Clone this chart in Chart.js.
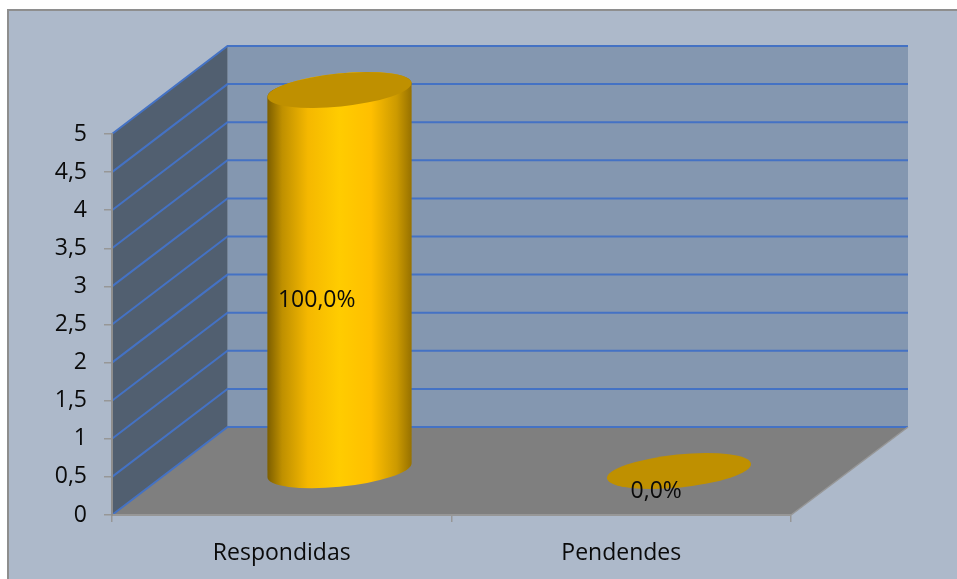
<!DOCTYPE html>
<html>
<head>
<meta charset="utf-8">
<script src="https://cdn.jsdelivr.net/npm/chart.js@4"></script>
<style>
  html, body { margin: 0; padding: 0; background: #fff; }
  #box { width: 957px; height: 579px; }
</style>
</head>
<body>
<div id="box"><canvas id="answersChart"></canvas></div>
<script>
const categories = ['Respondidas', 'Pendendes'];
const answers = [5, 0];
const percentLabels = ['100,0%', '0,0%'];
const yMax = 5;
const yStep = 0.5;

// depth of the fake 3d box
const depthX = 115.5;
const depthY = -88;
const barWidth = 143;
// cylinder cap
const capA = 72.4;
const capB = 16.5;
const capRot = -5.8 * Math.PI / 180;
const capTan = Math.atan(-(capB / capA) * Math.tan(capRot));

const fontName = '"Open Sans", sans-serif';
const fontSize = 23;

function barGradient(ctx, x) {
  var g = ctx.createLinearGradient(x - barWidth / 2, 0, x + barWidth / 2, 0);
  g.addColorStop(0, '#7F6000');
  g.addColorStop(0.1, '#BF9000');
  g.addColorStop(0.28, '#F5B800');
  g.addColorStop(0.5, '#FFCC00');
  g.addColorStop(0.72, '#FFBF00');
  g.addColorStop(0.9, '#CC9A00');
  g.addColorStop(1, '#997300');
  return g;
}

function cylinderPath(ctx, bar) {
  ctx.ellipse(bar.x, bar.y, capA, capB, capRot, capTan + Math.PI, capTan + Math.PI * 2);
  ctx.ellipse(bar.x, bar.base, capA, capB, capRot, capTan, capTan + Math.PI);
  ctx.closePath();
}

const box3d = {
  id: 'box3d',
  beforeDraw(chart) {
    var ctx = chart.ctx, a = chart.chartArea, y = chart.scales.y;
    ctx.save();
    // frame
    ctx.fillStyle = '#ADB9CA';
    ctx.fillRect(7, 9, chart.width - 7, chart.height - 9);
    ctx.strokeStyle = '#8E8E8E';
    ctx.lineWidth = 2;
    ctx.beginPath();
    ctx.moveTo(8, chart.height);
    ctx.lineTo(8, 10);
    ctx.lineTo(chart.width, 10);
    ctx.stroke();

    var bx = a.left + depthX, tx = a.right + depthX + 1.5;
    // back wall
    ctx.fillStyle = '#8497B0';
    ctx.fillRect(bx, a.top + depthY, tx - bx, a.bottom - a.top);
    // left wall
    ctx.fillStyle = '#515F70';
    ctx.beginPath();
    ctx.moveTo(a.left, a.top);
    ctx.lineTo(bx, a.top + depthY);
    ctx.lineTo(bx, a.bottom + depthY);
    ctx.lineTo(a.left, a.bottom);
    ctx.closePath();
    ctx.fill();
    // floor
    ctx.fillStyle = '#7F7F7F';
    ctx.beginPath();
    ctx.moveTo(a.left, a.bottom);
    ctx.lineTo(bx, a.bottom + depthY);
    ctx.lineTo(tx, a.bottom + depthY);
    ctx.lineTo(a.right, a.bottom);
    ctx.closePath();
    ctx.fill();
    // grid lines on both walls
    ctx.strokeStyle = '#4472C4';
    ctx.lineWidth = 2;
    y.ticks.forEach(function (t) {
      var py = y.getPixelForValue(t.value);
      ctx.beginPath();
      ctx.moveTo(a.left, py);
      ctx.lineTo(bx, py + depthY);
      ctx.lineTo(tx, py + depthY);
      ctx.stroke();
    });
    // right edge of the floor
    ctx.strokeStyle = '#979797';
    ctx.lineWidth = 1.5;
    ctx.beginPath();
    ctx.moveTo(a.right, a.bottom);
    ctx.lineTo(tx, a.bottom + depthY);
    ctx.stroke();
    ctx.restore();
  },
  beforeDatasetsDraw(chart) {
    var ctx = chart.ctx;
    var bars = chart.getDatasetMeta(0).data;
    // round body of every bar that has height
    bars.forEach(function (bar) {
      if (bar.base - bar.y < 1) return;
      ctx.save();
      ctx.translate(depthX / 2, depthY / 2);
      ctx.fillStyle = barGradient(ctx, bar.x);
      ctx.beginPath();
      cylinderPath(ctx, bar);
      ctx.fill();
      ctx.restore();
    });
    // the rectangles themselves get clipped to the cylinder outline
    ctx.save();
    ctx.translate(depthX / 2, depthY / 2);
    ctx.beginPath();
    bars.forEach(function (bar) {
      cylinderPath(ctx, bar);
    });
    ctx.clip();
  },
  afterDatasetsDraw(chart) {
    var ctx = chart.ctx;
    ctx.restore();
    var bars = chart.getDatasetMeta(0).data;
    bars.forEach(function (bar) {
      ctx.save();
      ctx.translate(depthX / 2, depthY / 2);
      ctx.fillStyle = '#BF9000';
      ctx.beginPath();
      ctx.ellipse(bar.x, bar.y, capA, capB, capRot, 0, Math.PI * 2);
      ctx.fill();
      ctx.restore();
    });
    // data labels
    ctx.save();
    ctx.fillStyle = '#0A0A0A';
    ctx.font = fontSize + 'px ' + fontName;
    ctx.textAlign = 'center';
    ctx.textBaseline = 'middle';
    bars.forEach(function (bar, i) {
      ctx.fillText(percentLabels[i], bar.x + 35, (bar.y + bar.base) / 2 - 23.5);
    });
    ctx.restore();
  }
};

document.addEventListener('DOMContentLoaded', function () {
  var ctx = document.getElementById('answersChart').getContext('2d');
  new Chart(ctx, {
    type: 'bar',
    data: {
      labels: categories,
      datasets: [{
        data: answers,
        barThickness: barWidth,
        borderWidth: 0,
        backgroundColor: function (c) {
          var xs = c.chart.scales.x;
          if (!xs || c.dataIndex === undefined) return '#FFCC00';
          var px = xs.getPixelForValue(c.dataIndex);
          if (!isFinite(px)) return '#FFCC00';
          return barGradient(c.chart.ctx, px);
        }
      }]
    },
    plugins: [box3d],
    options: {
      responsive: true,
      maintainAspectRatio: false,
      animation: false,
      layout: { padding: { left: 0, right: 166, top: 134, bottom: 0 } },
      plugins: { legend: { display: false }, tooltip: { enabled: false } },
      scales: {
        x: {
          afterFit: function (s) { s.height = 64; },
          grid: { drawOnChartArea: false, color: '#979797', tickLength: 7, lineWidth: 1.5 },
          border: { color: '#979797', width: 2 },
          ticks: { color: '#0A0A0A', padding: 18, maxRotation: 0, font: { family: fontName, size: fontSize } }
        },
        y: {
          min: 0,
          max: yMax,
          afterFit: function (s) { s.width = 112; },
          grid: { drawOnChartArea: false, color: '#979797', tickLength: 8, lineWidth: 1.5 },
          border: { color: '#8E8E8E', width: 2 },
          ticks: {
            stepSize: yStep,
            color: '#0A0A0A',
            padding: 17,
            font: { family: fontName, size: fontSize },
            callback: function (v) { return String(v).replace('.', ','); }
          }
        }
      }
    }
  });
});
</script>
</body>
</html>
